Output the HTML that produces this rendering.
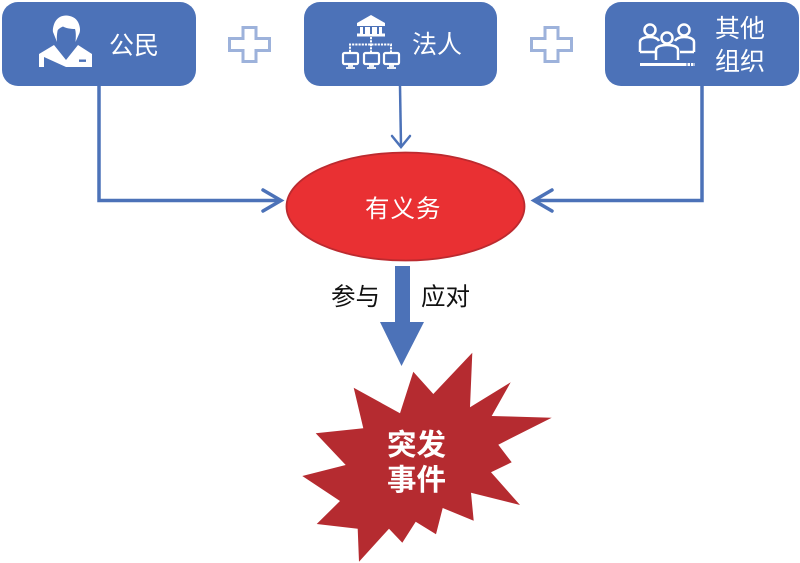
<!DOCTYPE html>
<html lang="zh">
<head>
<meta charset="utf-8">
<style>
html,body{margin:0;padding:0;background:#fff;}
svg{display:block;filter:blur(.35px);}
text{font-family:"Liberation Sans","Noto Sans CJK SC",sans-serif;}
</style>
</head>
<body>
<svg width="800" height="563" viewBox="0 0 800 563" xmlns="http://www.w3.org/2000/svg">
<defs>
<g id="plus"><path d="M15 1.500H28V12.500H41.500V24.500H28V35.500H15V24.500H1.500V12.500H15Z" fill="#fff" stroke="#9db2db" stroke-width="3"/></g>
<g id="mon"><rect x="1" y="1" width="15" height="11" rx="1.500" fill="none" stroke="#fff" stroke-width="2.200"/><path d="M6 14H11M4 16H13" stroke="#fff" stroke-width="1.800"/></g>
</defs>

<!-- boxes -->
<rect x="2" y="2" width="194" height="84" rx="16" fill="#4c72b8"/>
<rect x="304" y="2" width="193" height="84" rx="16" fill="#4c72b8"/>
<rect x="605" y="2" width="194" height="84" rx="16" fill="#4c72b8"/>

<!-- plus signs -->
<use href="#plus" x="228" y="26"/>
<use href="#plus" x="530" y="26"/>

<!-- person icon -->
<path d="M57 42L53 32C52.500 29 53.500 25 55 22C58 17 62 15.500 66 15.500C71 15.500 76 18 78 22C80 26 80.500 30 79.500 33L75.500 42C76 37 76 32 75 29C71 29 65 28 63 26.500C60 28 58 29 57.500 31C57 34 56.500 38 57 42Z" fill="#fff"/>
<path d="M39 54L54 45L66 60L78 45L92 54V67H66L44 57V67H39Z" fill="#fff"/>
<rect x="79" y="59.500" width="7" height="2.400" fill="#4c72b8"/>

<!-- institution icon -->
<path d="M371 15L385 23V26H357V23Z" fill="#fff"/>
<rect x="360" y="27" width="22" height="8" fill="#fff"/>
<rect x="357" y="33.500" width="28" height="3" fill="#fff"/>
<path d="M364 26V34M371 26V34M378 26V34" stroke="#4c72b8" stroke-width="2"/>
<path d="M371 37V44M350 52V44.500H391V52M371 44V52" fill="none" stroke="#fff" stroke-width="2" stroke-dasharray="2.200 1"/>
<use href="#mon" x="342" y="52"/>
<use href="#mon" x="363" y="52"/>
<use href="#mon" x="383" y="52"/>

<!-- group icon -->
<g fill="none" stroke="#fff" stroke-width="2.500">
<circle cx="650" cy="30" r="5.500"/>
<circle cx="684" cy="30" r="5.500"/>
<circle cx="667" cy="38" r="5.500"/>
<path d="M640 52V42C640 39 644 37 650 37C655 37 658 39 659 41M640 52H655"/>
<path d="M694 52V42C694 39 690 37 684 37C679 37 676 39 675 41M694 52H680"/>
<path d="M656 60V50C656 47 660 45 667 45C674 45 678 47 678 50V60"/>
</g>
<rect x="640" y="63" width="44" height="3" fill="#fff"/>
<path d="M684 64.500H695" stroke="#fff" stroke-width="3" stroke-dasharray="2.500 1"/>

<!-- box labels -->
<text x="109" y="54" font-size="25" fill="#fff">公民</text>
<text x="412" y="53" font-size="25" fill="#fff">法人</text>
<text x="715" y="37" font-size="25" fill="#fff">其他</text>
<text x="715" y="70" font-size="25" fill="#fff">组织</text>

<!-- connectors -->
<g fill="none" stroke="#4c72b8" stroke-width="3.500">
<path d="M99 86V200.500H280"/>
<path d="M263 190L281 200.500L263 211" stroke-linecap="round"/>
<path d="M702 86V200.500H536"/>
<path d="M552 190L534 200.500L552 211" stroke-linecap="round"/>
</g>
<g fill="none" stroke="#4c72b8" stroke-width="2.500">
<path d="M400 86L401 146"/>
<path d="M392 136L401 147L410 136" stroke-linecap="round"/>
</g>

<!-- ellipse -->
<ellipse cx="405.500" cy="206.500" rx="119" ry="54" fill="#e93033" stroke="#bc2a2f" stroke-width="1.800"/>
<text x="365" y="217" font-size="24.500" fill="#fff" letter-spacing="1">有义务</text>

<!-- big arrow -->
<path d="M395 266H410V322H424L401.500 366L380 322H395Z" fill="#4c72b8"/>
<text x="331" y="305" font-size="24.500" fill="#111">参与</text>
<text x="421" y="305" font-size="24.500" fill="#111">应对</text>

<!-- burst -->
<path d="M413.300 371.700L433.300 394L472.300 352.700L470 407.300L510.700 382.300L491.700 416L551.700 417.700L498.300 444.700L511.700 462.300L491 472.300L520 505L471 492.700L473.700 520.700L442.700 508L436 534.300L415.700 521.700L402.300 542.700L389 528.700L359 561.700L357.700 528.700L316.700 524L340 501L302.300 476L345.700 465L315.700 433.300L363.300 428.300L353.700 387.700L400 413.300Z" fill="#b52b30"/>
<text x="387" y="455" font-size="29.500" font-weight="700" fill="#fff">突发</text>
<text x="387" y="490" font-size="29.500" font-weight="700" fill="#fff">事件</text>
</svg>
</body>
</html>
